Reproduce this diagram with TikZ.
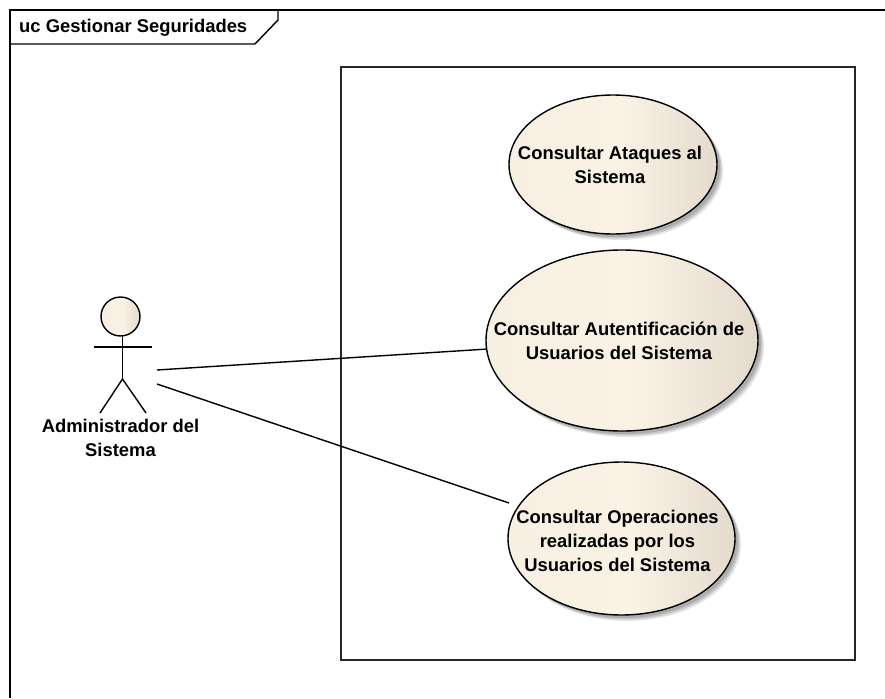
\documentclass[tikz,border=0pt]{standalone}
\usepackage{fontspec}
\setmainfont{Liberation Sans}
\usetikzlibrary{shapes.geometric,shadows}
\definecolor{ucL}{HTML}{F8EFE3}
\definecolor{ucM}{HTML}{FBF2E6}
\definecolor{ucR}{HTML}{E4DBCE}
\pgfdeclarehorizontalshading{ucshade}{100bp}{color(0bp)=(ucL); color(25bp)=(ucL); color(52bp)=(ucM); color(75bp)=(ucR); color(100bp)=(ucR)}
\tikzset{
  x=1pt,y=-1pt,
  lbl/.style={font=\fontsize{18.4}{24}\selectfont\bfseries,align=center,text=black,inner sep=0pt},
  usecase/.style={ellipse,draw=black,line width=1.4pt,inner sep=0pt,outer sep=0pt,
    shading=ucshade,
    general shadow={shadow xshift=3pt,shadow yshift=-3pt,fill=gray,opacity=.35},
    general shadow={shadow xshift=4.5pt,shadow yshift=-4.5pt,fill=gray,opacity=.3},
    general shadow={shadow xshift=6pt,shadow yshift=-6pt,fill=gray,opacity=.2}},
  line/.style={draw=black,line width=1.4pt},
}
\begin{document}
\begin{tikzpicture}
\useasboundingbox (0,0) rectangle (885,698);
\fill[white] (0,0) rectangle (885,698);
% frame
\draw[line] (885,10) -- (10,10) -- (10,698);
\draw[line] (10,44) -- (255,44) -- (278,20) -- (278,10);
\node[lbl,anchor=west] (title) at (19,27.5) {uc Gestionar Seguridades};
% boundary
\draw[line,draw=black!85] (341,67) rectangle (855,660);
% use cases
\node[usecase,minimum width=208pt,minimum height=139pt,
  label={[lbl,xshift=-3pt]center:{Consultar Ataques al\\Sistema}}] (e1) at (613,164.5) {};
\node[usecase,minimum width=272pt,minimum height=181pt,
  label={[lbl,xshift=-3pt]center:{Consultar Autentificación de\\Usuarios del Sistema}}] (e2) at (622,340.5) {};
\node[usecase,minimum width=227pt,minimum height=153pt,
  label={[lbl,xshift=-4pt,yshift=-2.5pt]center:{Consultar Operaciones\\realizadas por los\\Usuarios del Sistema}}] (e3) at (621.5,538.5) {};
% actor
\node[circle,draw=black,line width=1.4pt,minimum size=39pt,inner sep=0pt,outer sep=0pt,shading=ucshade] (head) at (120.5,316.5) {};
\coordinate (hip) at (122.5,379);
\draw[line] (head.south -| hip) -- (hip);
\draw[line] (94,347) -- (152,347);
\draw[line] (100,413) -- (hip) -- (146,413);
\node[lbl] (actor) at (120.5,438) {Administrador del\\Sistema};
% connectors
\coordinate (a1) at (157,370);
\coordinate (a2) at (157,384);
\coordinate (e3end) at (509,503);
\draw[line] (a1) -- (e2);
\draw[line] (a2) -- (e3end);
\end{tikzpicture}
\end{document}
